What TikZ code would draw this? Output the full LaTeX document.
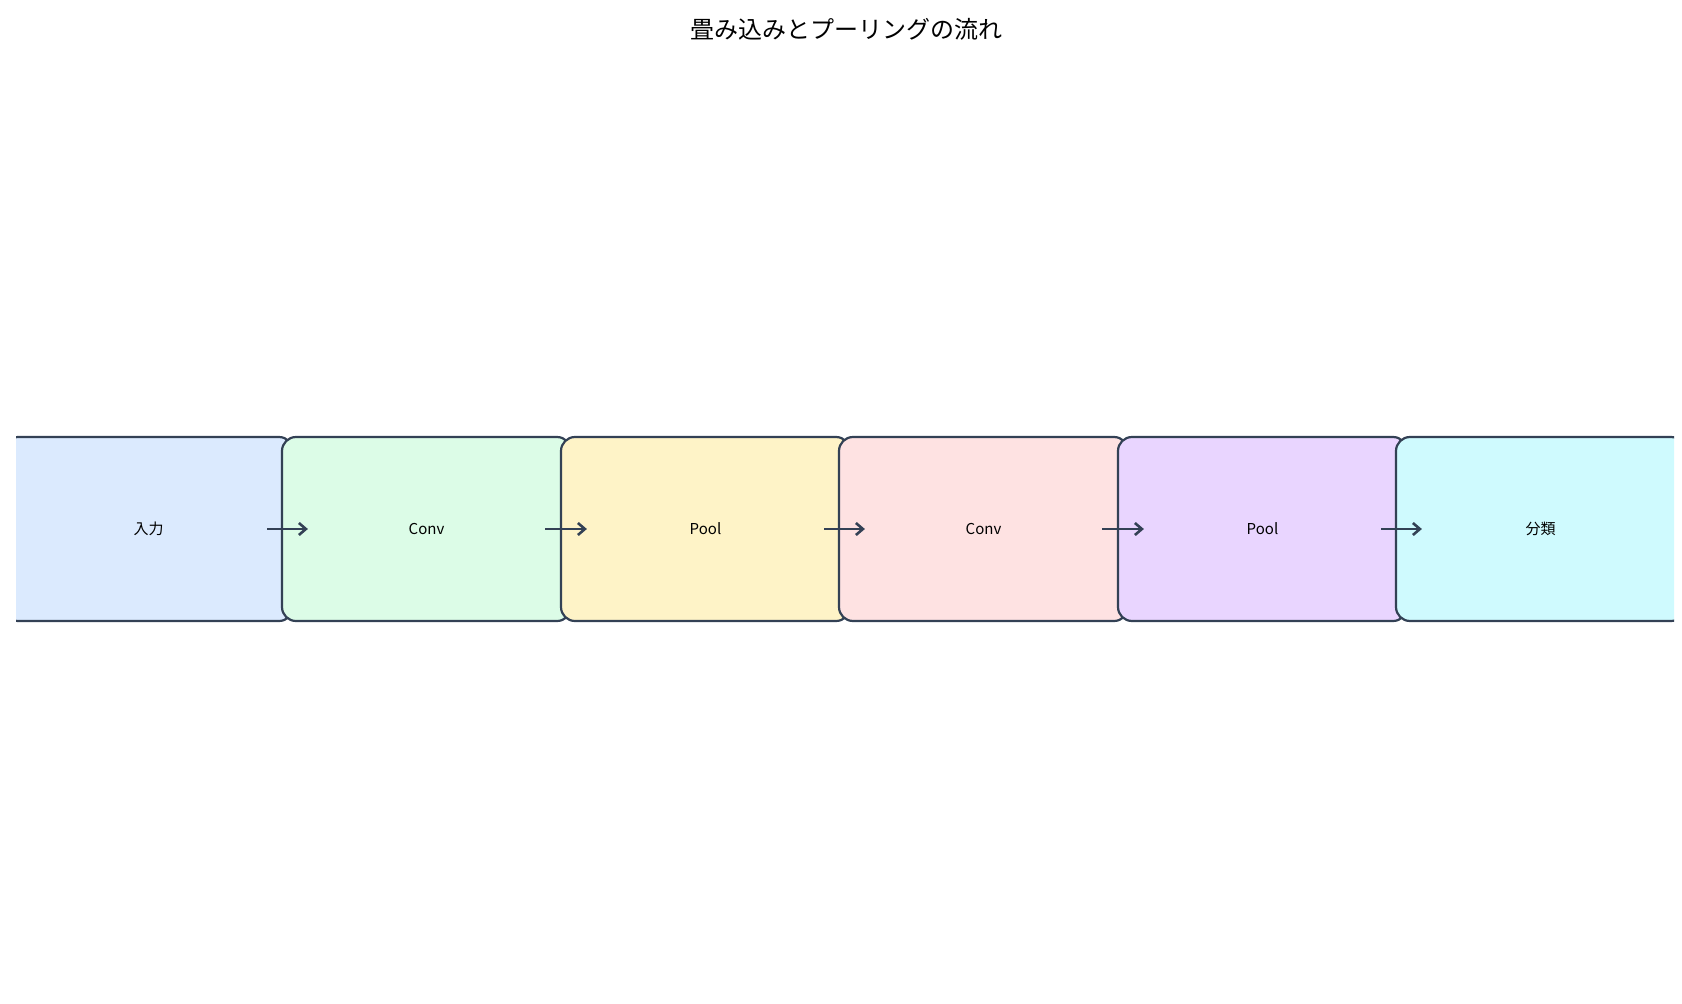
\documentclass[tikz,border=0pt]{standalone}
\usepackage{fontspec}
\setmainfont{Noto Sans CJK JP}
\usetikzlibrary{arrows.meta}
\definecolor{edge}{HTML}{334155}
\definecolor{c1}{HTML}{DBEAFE}
\definecolor{c2}{HTML}{DCFCE7}
\definecolor{c3}{HTML}{FEF3C7}
\definecolor{c4}{HTML}{FEE2E2}
\definecolor{c5}{HTML}{E9D5FF}
\definecolor{c6}{HTML}{CFFAFE}
\tikzset{stage/.style={draw=edge,line width=2.2pt,rounded corners=14pt,minimum width=289pt,minimum height=184pt,font=\fontsize{15}{18}\selectfont,inner sep=0pt},
conn/.style={draw=edge,line width=2.6pt,-{Straight Barb[length=7pt,width=12pt]}}}
\begin{document}
\begin{tikzpicture}[x=1pt,y=1pt]
\useasboundingbox (0,0) rectangle (1682,-1004);
\node[font=\fontsize{24}{28}\selectfont] (title) at (846,-29) {畳み込みとプーリングの流れ};
\begin{scope}
\clip (16,0) rectangle (1674,-1004);
\node[stage,fill=c1] (a) at (148.5,-529) {入力};
\node[stage,fill=c2] (b) at (426.5,-529) {Conv};
\node[stage,fill=c3] (c) at (705.5,-529) {Pool};
\node[stage,fill=c4] (d) at (983.5,-529) {Conv};
\node[stage,fill=c5] (e) at (1262.5,-529) {Pool};
\node[stage,fill=c6] (f) at (1540.5,-529) {分類};
\end{scope}
\foreach \p/\q in {a/b,b/c,c/d,d/e,e/f}{
  \draw[conn] ([xshift=-27pt]\p.east) -- ([xshift=27pt]\q.west);
}
\end{tikzpicture}
\end{document}
